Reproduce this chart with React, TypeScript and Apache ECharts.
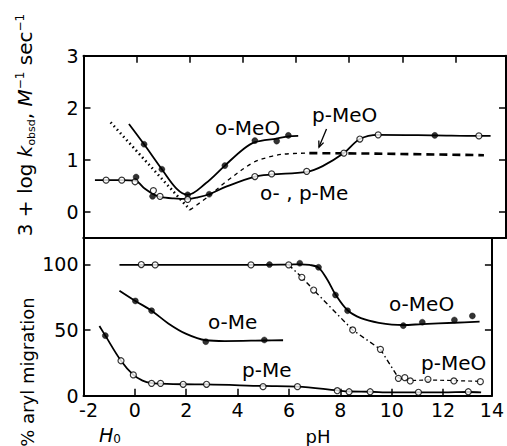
import React, { useEffect, useRef } from "react";
import * as echarts from "echarts";

// ---------- tick labels ----------
const X_LABELS = [-2, 0, 2, 4, 6, 8, 10, 12, 13.9];
const X_TICKS_BOTTOM = [0, 2, 4, 6, 8, 10, 12];
const X_TICKS_TOP = [0, 2, 4, 6, 8, 10, 12];
const TOP_Y_LABELS = [0, 1, 2, 3];
const TOP_Y_RIGHT_TICKS = [0, 1, 2];
const BOT_Y_LABELS = [0, 50, 100];
const BOT_Y_RIGHT_TICKS = [50, 100];

// ---------- top panel: 3 + log k_obsd ----------
const topOMeOLine = [
  [-0.29, 1.69], [0.28, 1.3], [0.95, 0.82], [1.5, 0.45], [1.92, 0.33], [2.6, 0.55],
  [3.32, 0.89], [4.0, 1.2], [4.45, 1.34], [5.27, 1.41], [5.71, 1.45], [6.08, 1.46],
];
const topOMeOFilled = [
  [0.28, 1.3], [0.95, 0.82], [1.92, 0.33], [3.32, 0.89], [4.45, 1.37], [5.27, 1.36], [5.71, 1.47],
];
const topMeLine = [
  [-1.57, 0.61], [-1.15, 0.61], [-0.56, 0.61], [-0.06, 0.6], [0.3, 0.45], [0.63, 0.34],
  [0.88, 0.29], [1.4, 0.26], [1.92, 0.25], [2.3, 0.28], [2.73, 0.34], [3.39, 0.49],
  [4.45, 0.68], [5.08, 0.72], [6.4, 0.77], [7.0, 0.88], [7.8, 1.13], [8.4, 1.4],
  [9.09, 1.48], [11.22, 1.47], [12.88, 1.46], [13.32, 1.46],
];
const topMeOpen = [
  [-1.15, 0.61], [-0.56, 0.61], [-0.06, 0.58], [0.63, 0.41], [0.88, 0.3], [1.92, 0.24],
  [4.45, 0.68], [5.08, 0.73], [6.4, 0.78], [7.8, 1.13], [8.4, 1.4], [9.09, 1.48], [12.88, 1.46],
];
const topMeFilled = [[-0.02, 0.67], [0.6, 0.3], [2.73, 0.34], [11.22, 1.47]];
const topPMeODotted = [[-0.98, 1.72], [2.01, 0.04]];
const topPMeODashThin = [[2.01, 0.04], [2.7, 0.3], [3.39, 0.59], [4.39, 0.95], [5.02, 1.06], [5.52, 1.11], [6.5, 1.13]];
const topPMeODashThick = [[6.5, 1.13], [9.0, 1.12], [13.07, 1.09]];

// ---------- bottom panel: % aryl migration ----------
const botOMeOLine = [
  [-0.6, 99.5], [2.0, 99.5], [4.52, 99.5], [6.0, 99.8], [6.42, 100.0], [6.8, 99.5],
  [7.15, 97.5], [7.5, 88], [7.81, 77], [8.28, 65], [8.8, 59], [9.5, 55.5],
  [10.45, 53.8], [11.19, 54.5], [12.44, 55.5], [13.42, 56.3],
];
const botOMeOFilled = [
  [5.24, 99.8], [6.42, 100.8], [7.15, 97.7], [7.81, 76.6], [8.28, 64.7],
  [10.45, 53.3], [11.19, 55.9], [12.44, 57.6], [13.14, 60.7],
];
const botPMeOOpen = [
  [0.25, 99.8], [0.79, 99.5], [4.52, 99.5], [5.99, 99.5], [6.5, 90.1], [6.96, 80.4],
  [8.48, 50], [9.56, 35.3], [10.26, 13.2], [10.51, 13.7], [10.72, 11.2], [11.41, 12.5],
  [12.42, 11.2], [13.45, 10.7],
];
const botPMeODashDot = [[5.99, 99.5], [6.5, 90.1], [6.96, 80.4], [8.48, 50], [9.56, 35.3], [10.26, 13.5]];
const botPMeODash = [[10.26, 13.5], [10.72, 11.5], [11.41, 12], [12.42, 11.5], [13.45, 10.9]];
const botOMeLine = [
  [-0.6, 79.9], [0.02, 72.1], [0.65, 64.7], [1.3, 55], [2.0, 47], [2.76, 42.2],
  [3.5, 41.6], [5.04, 42.0], [5.77, 42.2],
];
const botOMeFilled = [[0.02, 72.1], [0.65, 64.7], [2.76, 41.1], [5.04, 42.4]];
const botPMeLine = [
  [-1.38, 53], [-1.15, 45.7], [-0.54, 26.6], [-0.06, 15.8], [0.3, 11.5], [0.65, 9.6],
  [1.0, 9.2], [1.88, 8.7], [2.79, 8.6], [4.99, 7.4], [6.33, 6.9], [7.88, 4],
  [8.34, 3.2], [9.16, 3], [9.97, 2.5], [11.04, 2.6], [11.98, 2.5], [12.98, 2.8], [13.48, 2.5],
];
const botPMeOpen = [
  [-0.54, 26.6], [-0.06, 15.8], [0.65, 9.4], [1.0, 9.4], [1.88, 8.7], [2.79, 8.7],
  [4.99, 6.9], [6.33, 6.9], [7.88, 3.8], [8.34, 3.0], [9.16, 3.0], [11.04, 2.6], [12.98, 3.0],
];
const botPMeFilled = [[-1.15, 45.7]];

const FONT = "DejaVu Sans";
const BLACK = "#000";

function lineSeries(data: number[][], grid: number, opts: any = {}) {
  return {
    type: "line",
    xAxisIndex: grid === 0 ? 0 : 2,
    yAxisIndex: grid === 0 ? 0 : 2,
    data,
    showSymbol: false,
    symbol: "none",
    smooth: opts.smooth ?? 0.35,
    lineStyle: { color: BLACK, width: opts.width ?? 1.8, type: opts.type ?? "solid" },
    z: 3,
  };
}

function scatterSeries(data: number[][], grid: number, filled: boolean) {
  return {
    type: "scatter",
    xAxisIndex: grid === 0 ? 0 : 2,
    yAxisIndex: grid === 0 ? 0 : 2,
    data,
    symbol: "circle",
    symbolSize: 6,
    itemStyle: filled
      ? { color: BLACK, borderColor: BLACK, borderWidth: 0.5 }
      : { color: "#fff", borderColor: BLACK, borderWidth: 1.2 },
    z: 5,
  };
}

const axisLine = { show: true, onZero: false, lineStyle: { color: BLACK, width: 2 } };
const tickStyle = { color: BLACK, width: 1.5 };
const labelStyle = { color: BLACK, fontFamily: FONT, fontSize: 19 };

function xAxis(grid: number, position: string, ticks: number[] | null, labels: number[] | null) {
  return {
    type: "value",
    gridIndex: grid,
    position,
    min: -2,
    max: 13.9,
    axisLine,
    axisTick: ticks
      ? { show: true, inside: true, length: 7, lineStyle: tickStyle, customValues: ticks }
      : { show: false },
    axisLabel: labels
      ? {
          show: true,
          margin: 5,
          ...labelStyle,
          customValues: labels,
          formatter: (v: number) => (v === -2 ? "{s|-2}" : String(Math.round(v))),
          rich: { s: { ...labelStyle, padding: [0, 0, 0, 10] } },
        }
      : { show: false },
    splitLine: { show: false },
  };
}

function yAxis(grid: number, position: string, min: number, max: number, ticks: number[], labels: number[] | null) {
  return {
    type: "value",
    gridIndex: grid,
    position,
    min,
    max,
    axisLine,
    axisTick: { show: true, inside: true, length: 7, lineStyle: tickStyle, customValues: ticks },
    axisLabel: labels ? { show: true, margin: 5, ...labelStyle, customValues: labels } : { show: false },
    splitLine: { show: false },
  };
}

function label(text: string, x: number, y: number, size = 20) {
  return {
    type: "text",
    x,
    y,
    z: 10,
    style: { text, fill: BLACK, font: `${size}px '${FONT}'`, align: "left", verticalAlign: "middle" },
  };
}

export default function App() {
  const ref = useRef<HTMLDivElement>(null);
  useEffect(() => {
    const chart = echarts.init(ref.current!, null, { renderer: "svg" });
    const option: any = {
      animation: false,
      backgroundColor: "#fff",
      grid: [
        { left: 83.5, top: 55.7, width: 422.5, height: 182.3, containLabel: false },
        { left: 83.5, top: 238, width: 422.5, height: 157.7, containLabel: false },
      ],
      xAxis: [
        xAxis(0, "bottom", null, null),
        xAxis(0, "top", X_TICKS_TOP, null),
        xAxis(1, "bottom", X_TICKS_BOTTOM, X_LABELS),
        xAxis(1, "top", null, null),
      ],
      yAxis: [
        yAxis(0, "left", -0.5, 3, TOP_Y_LABELS, TOP_Y_LABELS),
        yAxis(0, "right", -0.5, 3, TOP_Y_RIGHT_TICKS, null),
        yAxis(1, "left", 0, 120, BOT_Y_LABELS, BOT_Y_LABELS),
        yAxis(1, "right", 0, 120, BOT_Y_RIGHT_TICKS, null),
      ],
      series: [
        lineSeries(topOMeOLine, 0),
        lineSeries(topMeLine, 0),
        lineSeries(topPMeODotted, 0, { smooth: false, width: 2.6, type: [1.5, 3.2] }),
        lineSeries(topPMeODashThin, 0, { width: 1.3, type: [4, 4] }),
        lineSeries(topPMeODashThick, 0, { smooth: false, width: 2.6, type: [8, 5] }),
        scatterSeries(topOMeOFilled, 0, true),
        scatterSeries(topMeOpen, 0, false),
        scatterSeries(topMeFilled, 0, true),

        lineSeries(botOMeOLine, 1),
        lineSeries(botPMeODashDot, 1, { smooth: false, width: 1.4, type: [5, 3, 1.5, 3] }),
        lineSeries(botPMeODash, 1, { smooth: false, width: 1.2, type: [4, 3] }),
        lineSeries(botOMeLine, 1),
        lineSeries(botPMeLine, 1),
        scatterSeries(botOMeOFilled, 1, true),
        scatterSeries(botPMeOOpen, 1, false),
        scatterSeries(botOMeFilled, 1, true),
        scatterSeries(botPMeOpen, 1, false),
        scatterSeries(botPMeFilled, 1, true),
      ],
      graphic: [
        label("o-MeO", 215, 128),
        label("p-MeO", 312, 115),
        label("o- , p-Me", 260, 193),
        label("o-MeO", 389, 304),
        label("p-MeO", 421, 363),
        label("o-Me", 208, 322),
        label("p-Me", 242, 370),
        {
          type: "line",
          z: 10,
          shape: { x1: 326.5, y1: 129, x2: 319, y2: 147 },
          style: { stroke: BLACK, lineWidth: 1.3 },
        },
        {
          type: "polyline",
          z: 10,
          shape: { points: [[318.8, 140.5], [319, 147.2], [323.6, 142.6]] },
          style: { stroke: BLACK, lineWidth: 1.3, fill: "none" },
        },
        {
          type: "text",
          x: 25,
          y: 125,
          rotation: Math.PI / 2,
          z: 10,
          style: {
            text: "3 + log {i|k}{sub|obsd}, {i|M}{sup|−1} sec{sup|−1}",
            fill: BLACK,
            font: `20px '${FONT}'`,
            align: "center",
            verticalAlign: "middle",
            lineHeight: 28,
            rich: {
              i: { fontFamily: FONT, fontSize: 20, fontStyle: "italic", lineHeight: 28 },
              sub: { fontFamily: FONT, fontSize: 11, verticalAlign: "bottom", lineHeight: 28, padding: [0, 0, 2, 0] },
              sup: { fontFamily: FONT, fontSize: 12, verticalAlign: "top", lineHeight: 28, padding: [3, 0, 0, 0] },
            },
          },
        },
        {
          type: "text",
          x: 27,
          y: 372,
          rotation: Math.PI / 2,
          z: 10,
          style: {
            text: "% aryl migration",
            fill: BLACK,
            font: `18px '${FONT}'`,
            align: "center",
            verticalAlign: "middle",
          },
        },
        {
          type: "text",
          x: 110,
          y: 435,
          z: 10,
          style: {
            text: "{i|H}{sub|0}",
            fill: BLACK,
            font: `19px '${FONT}'`,
            align: "center",
            verticalAlign: "middle",
            rich: {
              i: { fontFamily: FONT, fontSize: 19, fontStyle: "italic", lineHeight: 19 },
              sub: { fontFamily: FONT, fontSize: 12, verticalAlign: "bottom", lineHeight: 19 },
            },
          },
        },
        {
          type: "text",
          x: 318,
          y: 436,
          z: 10,
          style: { text: "pH", fill: BLACK, font: `18px '${FONT}'`, align: "center", verticalAlign: "middle" },
        },
      ],
    };
    chart.setOption(option);
    return () => chart.dispose();
  }, []);
  return (
    <div
      ref={ref}
      style={{ position: "fixed", left: 0, top: 0, width: 507, height: 446, background: "#fff" }}
    />
  );
}
